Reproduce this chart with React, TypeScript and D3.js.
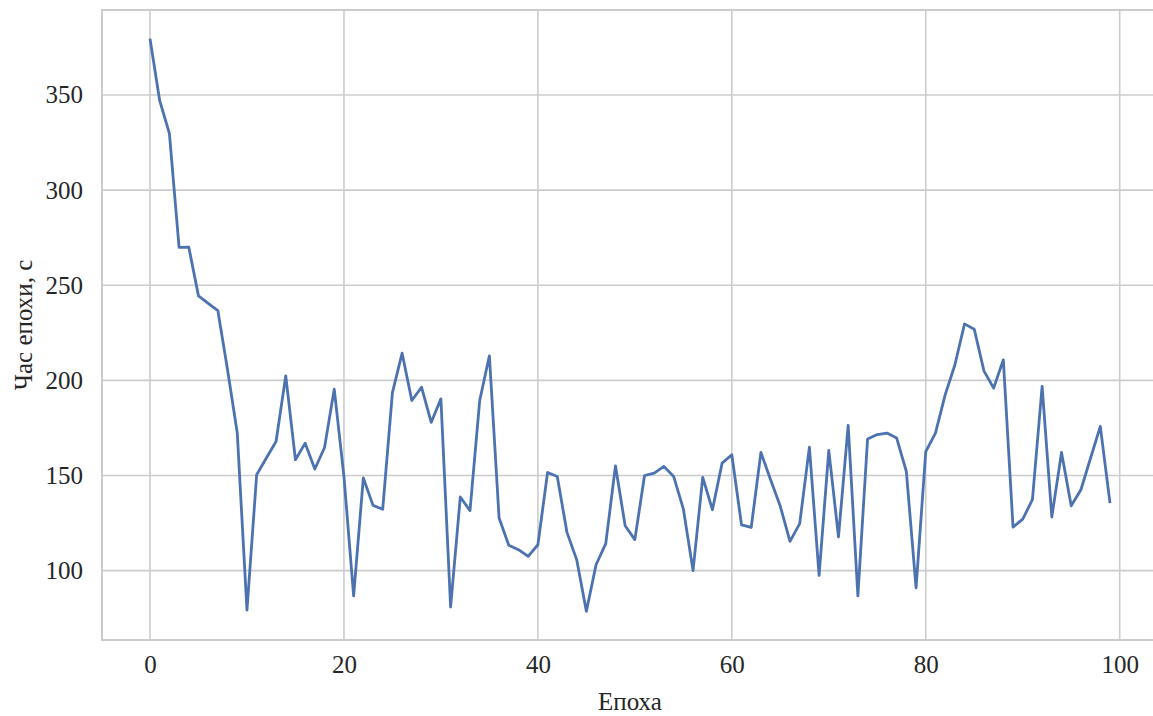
import React, { useRef, useEffect } from 'react';
import * as d3 from 'd3';

// epoch time, seconds
const epochTimes: number[] = [
  379.6, 347.0, 329.8, 269.9, 270.0, 244.4, 240.5, 236.6, 205.5, 172.3,
  79.2, 150.4, 159.2, 167.9, 202.4, 158.3, 167.0, 153.4, 164.7, 195.4,
  149.5, 86.7, 148.7, 134.3, 132.3, 193.6, 214.3, 189.4, 196.4, 177.9,
  190.3, 80.9, 138.7, 131.5, 189.4, 212.9, 127.7, 113.3, 111.0, 107.5,
  113.6, 151.6, 149.5, 120.1, 105.8, 78.6, 103.1, 114.2, 155.1, 123.6,
  116.3, 150.0, 151.3, 154.8, 149.5, 132.5, 100.0, 149.0, 132.0, 156.5,
  160.9, 124.1, 122.7, 162.1, 147.8, 133.8, 115.4, 124.7, 164.9, 97.5,
  163.2, 117.7, 176.4, 86.7, 169.2, 171.5, 172.3, 169.7, 152.1, 90.9,
  162.6, 172.3, 192.4, 208.1, 229.7, 226.9, 205.0, 195.9, 210.8, 122.9,
  127.1, 137.3, 196.8, 128.2, 162.1, 134.1, 142.5, 159.2, 175.8, 135.5,
];
const xTicks: number[] = [0, 20, 40, 60, 80, 100];
const yTicks: number[] = [100, 150, 200, 250, 300, 350];
const xLabel = 'Епоха';
const yLabel = 'Час епохи, с';

const W = 1153;
const H = 716;

const App: React.FC = () => {
  const svgRef = useRef<SVGSVGElement>(null);

  useEffect(() => {
    if (!svgRef.current) return;
    const svg = d3.select(svgRef.current);
    svg.selectAll('*').remove();

    const margin = { top: 10, right: -5, bottom: 76, left: 102 };
    const innerWidth = W - margin.left - margin.right;
    const innerHeight = H - margin.top - margin.bottom;
    const font = '"Liberation Serif", "Times New Roman", serif';
    const grid = '#cccccc';

    const n = epochTimes.length;
    const xPad = (n - 1) * 0.05;
    const xScale = d3.scaleLinear()
      .domain([-xPad, n - 1 + xPad])
      .range([0, innerWidth]);

    const [ymin, ymax] = d3.extent(epochTimes) as [number, number];
    const yPad = (ymax - ymin) * 0.05;
    const yScale = d3.scaleLinear()
      .domain([ymin - yPad, ymax + yPad])
      .range([innerHeight, 0]);

    const g = svg.append('g')
      .attr('transform', `translate(${margin.left},${margin.top})`);

    // Grid lines
    g.append('g')
      .selectAll('line')
      .data(xTicks)
      .join('line')
      .attr('x1', d => xScale(d))
      .attr('x2', d => xScale(d))
      .attr('y1', 0)
      .attr('y2', innerHeight)
      .attr('stroke', grid)
      .attr('stroke-width', 1.6);

    g.append('g')
      .selectAll('line')
      .data(yTicks)
      .join('line')
      .attr('x1', 0)
      .attr('x2', innerWidth)
      .attr('y1', d => yScale(d))
      .attr('y2', d => yScale(d))
      .attr('stroke', grid)
      .attr('stroke-width', 1.6);

    // Frame
    g.append('rect')
      .attr('x', 0)
      .attr('y', 0)
      .attr('width', innerWidth)
      .attr('height', innerHeight)
      .attr('fill', 'none')
      .attr('stroke', grid)
      .attr('stroke-width', 2);

    // Axes (no tick marks, seaborn whitegrid style)
    const xAxis = g.append('g')
      .attr('transform', `translate(0,${innerHeight})`)
      .call(d3.axisBottom(xScale).tickValues(xTicks).tickSize(0).tickPadding(15).tickFormat(d3.format('d')));
    const yAxis = g.append('g')
      .call(d3.axisLeft(yScale).tickValues(yTicks).tickSize(0).tickPadding(19).tickFormat(d3.format('d')));

    [xAxis, yAxis].forEach(ax => {
      ax.select('.domain').remove();
      ax.selectAll('text')
        .attr('font-family', font)
        .attr('font-size', '25px')
        .attr('fill', '#262626');
    });

    // Line
    const line = d3.line<number>()
      .x((_, i) => xScale(i))
      .y(d => yScale(d));

    g.append('path')
      .datum(epochTimes)
      .attr('fill', 'none')
      .attr('stroke', '#4c72b0')
      .attr('stroke-width', 2.8)
      .attr('stroke-linejoin', 'round')
      .attr('d', line);

    // Axis labels
    svg.append('text')
      .attr('x', margin.left + xScale(49.5))
      .attr('y', 710)
      .attr('text-anchor', 'middle')
      .attr('font-family', font)
      .attr('font-size', '25px')
      .attr('fill', '#262626')
      .text(xLabel);

    svg.append('text')
      .attr('transform', `translate(32,${margin.top + innerHeight / 2}) rotate(-90)`)
      .attr('text-anchor', 'middle')
      .attr('font-family', font)
      .attr('font-size', '25px')
      .attr('fill', '#262626')
      .text(yLabel);
  }, []);

  return (
    <svg
      ref={svgRef}
      width={W}
      height={H}
      style={{ position: 'absolute', left: 0, top: 0, background: '#ffffff', overflow: 'hidden' }}
    />
  );
};

export default App;
